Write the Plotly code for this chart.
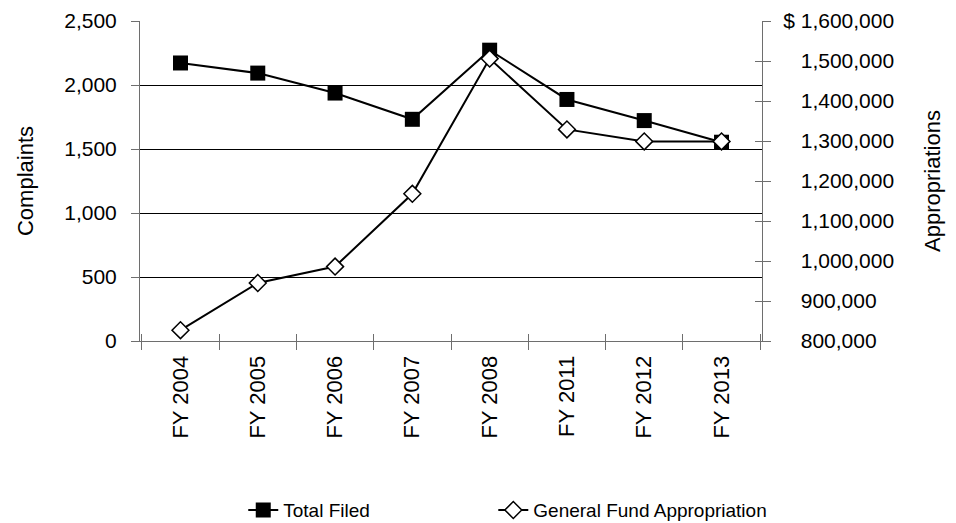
import plotly.graph_objects as go

# data
years = ['FY 2004', 'FY 2005', 'FY 2006', 'FY 2007', 'FY 2008', 'FY 2011', 'FY 2012', 'FY 2013']
total_filed = [2172, 2093, 1937, 1732, 2272, 1887, 1722, 1553]
appropriation = [827000, 945000, 986000, 1168000, 1506000, 1329000, 1299000, 1299000]

complaint_ticks = [0, 500, 1000, 1500, 2000, 2500]
money_ticks = [800000, 900000, 1000000, 1100000, 1200000, 1300000, 1400000, 1500000, 1600000]
# accounting style: "$" only on the top label, others padded to the same width
money_text = ['\u2007\u00a0' + f'{v:,}' for v in money_ticks[:-1]] + [f'$ {money_ticks[-1]:,}']

font = 'Liberation Sans, Arial, sans-serif'
axis_grey = '#6e6e6e'

fig = go.Figure()

fig.add_trace(go.Scatter(
    x=years, y=total_filed, name='Total Filed', mode='lines+markers',
    line=dict(color='black', width=2),
    marker=dict(symbol='square', size=15, color='black'),
    legend='legend',
))
fig.add_trace(go.Scatter(
    x=years, y=appropriation, name='General Fund Appropriation', mode='lines+markers',
    yaxis='y2',
    line=dict(color='black', width=2),
    marker=dict(symbol='diamond', size=13, color='white', line=dict(color='black', width=1.5)),
    legend='legend2',
))

# the page body adds an 8px offset, so the figure is 8px smaller and margins shifted
leg = dict(orientation='h', yref='container', y=0.025, yanchor='middle', xanchor='left',
           font=dict(size=19), bgcolor='rgba(0,0,0,0)')

fig.update_layout(
    width=948, height=515,
    margin=dict(l=132, r=194, t=13, b=182),
    paper_bgcolor='white', plot_bgcolor='white',
    font=dict(family=font, size=21, color='black'),
    showlegend=True,
    legend=dict(leg, x=0.166),
    legend2=dict(leg, x=0.568),
    xaxis=dict(
        type='category', categoryorder='array', categoryarray=years,
        tickangle=-90, tickson='boundaries', automargin=False,
        ticks='outside', ticklen=8, tickcolor=axis_grey, tickwidth=1,
        showline=True, linecolor=axis_grey, linewidth=1,
        showgrid=False, tickfont=dict(size=22), ticklabelstandoff=5,
    ),
    # inside half of the crossing category ticks
    xaxis2=dict(
        overlaying='x', matches='x', type='category', categoryorder='array', categoryarray=years,
        tickson='boundaries', ticks='inside', ticklen=7, tickcolor=axis_grey, automargin=False,
        showticklabels=False, showgrid=False, showline=False,
    ),
    yaxis=dict(
        title=dict(text='Complaints', font=dict(size=22), standoff=24),
        range=[0, 2500], tickvals=complaint_ticks, tickformat=',', automargin=False,
        ticks='outside', ticklen=8, tickcolor=axis_grey,
        showline=True, linecolor=axis_grey, linewidth=1,
        showgrid=True, gridcolor='black', gridwidth=1, zeroline=False,
        ticklabelstandoff=10, tickfont=dict(size=21), ticklabeloverflow='allow',
    ),
    yaxis2=dict(
        title=dict(text='Appropriations', font=dict(size=22), standoff=31),
        overlaying='y', side='right', automargin=False,
        range=[800000, 1600000], tickvals=money_ticks, ticktext=money_text,
        ticks='outside', ticklen=8, tickcolor=axis_grey,
        showline=True, linecolor=axis_grey, linewidth=1,
        showgrid=False, zeroline=False,
        ticklabelstandoff=8, tickfont=dict(size=21), ticklabeloverflow='allow',
    ),
    # inside half of the crossing appropriation ticks
    yaxis3=dict(
        overlaying='y', side='right', matches='y2', automargin=False,
        range=[800000, 1600000], tickvals=money_ticks,
        ticks='inside', ticklen=7, tickcolor=axis_grey,
        showticklabels=False, showgrid=False, showline=False, zeroline=False,
    ),
)

# invisible trace so the helper axes get drawn
fig.add_trace(go.Scatter(x=years, y=appropriation, xaxis='x2', yaxis='y3',
                         mode='markers', marker=dict(opacity=0), showlegend=False,
                         hoverinfo='skip'))

fig.write_html('out.html')
